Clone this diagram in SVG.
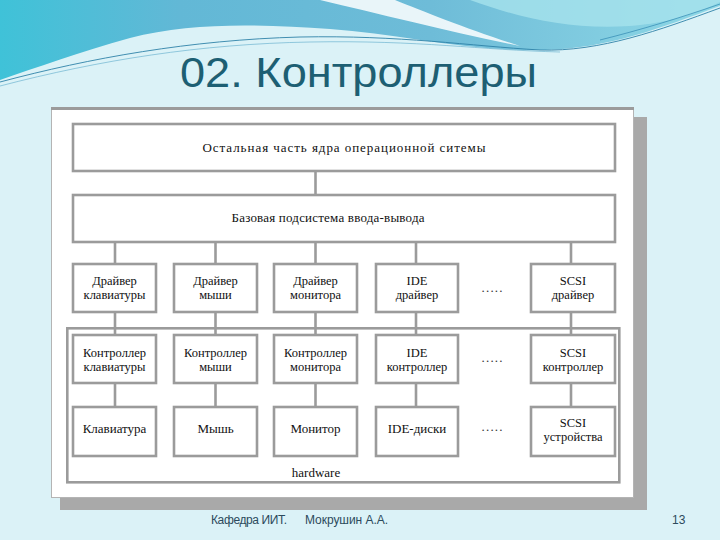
<svg xmlns="http://www.w3.org/2000/svg" width="720" height="540" viewBox="0 0 720 540">
<defs>
<linearGradient id="sky" x1="0" y1="0" x2="1" y2="0">
<stop offset="0" stop-color="#3fc2d8"/>
<stop offset="0.25" stop-color="#62b8d6"/>
<stop offset="0.6" stop-color="#6ebcd8"/>
<stop offset="1" stop-color="#8fd8e6"/>
</linearGradient>
<style>
.box{fill:#ffffff;stroke:#9b9b9b;stroke-width:2.6}
.con line{stroke:#9b9b9b;stroke-width:2.6}
.t{font-family:'Liberation Serif','DejaVu Serif','Noto Serif',serif;font-size:12.5px;fill:#111;text-anchor:middle}
.big{font-size:13px}
.dots{font-family:'Liberation Serif','DejaVu Serif',serif;font-size:13px;fill:#333;text-anchor:middle}
.foot{font-family:'Liberation Sans',Arial,sans-serif;font-size:12px;fill:#2c4a5c}
</style>
</defs>
<rect x="0" y="0" width="720" height="540" fill="#dbf2f7"/>
<!-- top decoration -->
<path d="M0,0 H720 V6 C660,28 610,48 545,50 C470,52 400,34 330,29 C260,24 190,22 130,38 C80,52 35,68 0,80 Z" fill="url(#sky)"/>
<path d="M470,0 C520,18 570,30 630,26 C675,22 700,12 720,2 V0 Z" fill="#a6e2ec" opacity="0.8"/>
<path d="M320,0 C380,14 450,32 520,46 C470,30 425,12 395,0 Z" fill="#ffffff" opacity="0.85"/>
<path d="M0,82 C90,58 190,40 300,37 C400,35 470,46 540,50 C600,52 660,30 720,8" fill="none" stroke="#2f82a8" stroke-width="0.9"/>
<path d="M0,86 C100,60 200,44 310,42 C420,40 480,50 560,52" fill="none" stroke="#5aa9c9" stroke-width="0.6"/>
<path d="M600,40 C640,30 680,18 720,4" fill="none" stroke="#3a90b8" stroke-width="0.8"/>
<!-- title -->
<text x="180" y="87" font-family="'Liberation Sans Narrow','Liberation Sans',Arial,sans-serif" font-size="43" fill="#1d5f73" textLength="357" lengthAdjust="spacingAndGlyphs">02. Контроллеры</text>
<!-- frame with shadow -->
<rect x="634" y="117" width="13" height="393" fill="#a9a9a9"/>
<rect x="60" y="498" width="587" height="12" fill="#a9a9a9"/>
<rect x="51.5" y="107.5" width="582" height="390" fill="#ffffff" stroke="#b4b4b4" stroke-width="1"/>
<line x1="51" y1="108.5" x2="634" y2="108.5" stroke="#9b9b9b" stroke-width="3"/>
<!-- hardware container -->
<g id="hardware">
<rect class="box" x="67.3" y="328.3" width="552" height="154"/>
<text class="t big" x="316" y="477">hardware</text>
</g>
<!-- connectors -->
<g id="connectors" class="con">
<line x1="315.5" y1="172" x2="315.5" y2="194"/>
<line x1="115" y1="243" x2="115" y2="263"/>
<line x1="215.5" y1="243" x2="215.5" y2="263"/>
<line x1="315.5" y1="243" x2="315.5" y2="263"/>
<line x1="416" y1="243" x2="416" y2="263"/>
<line x1="571" y1="243" x2="571" y2="263"/>
<line x1="115" y1="313" x2="115" y2="334"/>
<line x1="215.5" y1="313" x2="215.5" y2="334"/>
<line x1="315.5" y1="313" x2="315.5" y2="334"/>
<line x1="416" y1="313" x2="416" y2="334"/>
<line x1="571" y1="313" x2="571" y2="334"/>
<line x1="115" y1="384" x2="115" y2="406"/>
<line x1="215.5" y1="384" x2="215.5" y2="406"/>
<line x1="315.5" y1="384" x2="315.5" y2="406"/>
<line x1="416" y1="384" x2="416" y2="406"/>
<line x1="571" y1="384" x2="571" y2="406"/>
</g>
<!-- top layers -->
<g id="kernel">
<rect class="box" x="73" y="124" width="542" height="47"/>
<text class="t big" x="344" y="152" textLength="283">Остальная часть ядра операционной ситемы</text>
</g>
<g id="io">
<rect class="box" x="73" y="195" width="542" height="47"/>
<text class="t big" x="328" y="222" textLength="193">Базовая подсистема ввода-вывода</text>
</g>
<!-- drivers -->
<g id="drv-kbd">
<rect class="box" x="73" y="264" width="83" height="48"/>
<text class="t" x="114.5" y="285">Драйвер</text>
<text class="t" x="114.5" y="299">клавиатуры</text>
</g>
<g id="drv-mouse">
<rect class="box" x="174" y="264" width="83" height="48"/>
<text class="t" x="215.5" y="285">Драйвер</text>
<text class="t" x="215.5" y="299">мыши</text>
</g>
<g id="drv-mon">
<rect class="box" x="274" y="264" width="83" height="48"/>
<text class="t" x="315.5" y="285">Драйвер</text>
<text class="t" x="315.5" y="299">монитора</text>
</g>
<g id="drv-ide">
<rect class="box" x="376" y="264" width="82" height="48"/>
<text class="t" x="417" y="285">IDE</text>
<text class="t" x="417" y="299">драйвер</text>
</g>
<text class="dots" x="492" y="292" textLength="21">.....</text>
<g id="drv-scsi">
<rect class="box" x="531" y="264" width="84" height="48"/>
<text class="t" x="573" y="285">SCSI</text>
<text class="t" x="573" y="299">драйвер</text>
</g>
<!-- controllers -->
<g id="ctl-kbd">
<rect class="box" x="73" y="335" width="83" height="48"/>
<text class="t" x="114.5" y="357">Контроллер</text>
<text class="t" x="114.5" y="371">клавиатуры</text>
</g>
<g id="ctl-mouse">
<rect class="box" x="174" y="335" width="83" height="48"/>
<text class="t" x="215.5" y="357">Контроллер</text>
<text class="t" x="215.5" y="371">мыши</text>
</g>
<g id="ctl-mon">
<rect class="box" x="274" y="335" width="83" height="48"/>
<text class="t" x="315.5" y="357">Контроллер</text>
<text class="t" x="315.5" y="371">монитора</text>
</g>
<g id="ctl-ide">
<rect class="box" x="376" y="335" width="82" height="48"/>
<text class="t" x="417" y="357">IDE</text>
<text class="t" x="417" y="371">контроллер</text>
</g>
<text class="dots" x="492" y="362" textLength="21">.....</text>
<g id="ctl-scsi">
<rect class="box" x="531" y="335" width="84" height="48"/>
<text class="t" x="573" y="357">SCSI</text>
<text class="t" x="573" y="371">контроллер</text>
</g>
<!-- devices -->
<g id="dev-kbd">
<rect class="box" x="73" y="407" width="83" height="49"/>
<text class="t big" x="114.5" y="433">Клавиатура</text>
</g>
<g id="dev-mouse">
<rect class="box" x="174" y="407" width="83" height="49"/>
<text class="t big" x="215.5" y="433">Мышь</text>
</g>
<g id="dev-mon">
<rect class="box" x="274" y="407" width="83" height="49"/>
<text class="t big" x="315.5" y="433">Монитор</text>
</g>
<g id="dev-ide">
<rect class="box" x="376" y="407" width="82" height="49"/>
<text class="t big" x="417" y="433">IDE-диски</text>
</g>
<text class="dots" x="492" y="431" textLength="21">.....</text>
<g id="dev-scsi">
<rect class="box" x="531" y="407" width="84" height="49"/>
<text class="t" x="573" y="427">SCSI</text>
<text class="t" x="573" y="441">устройства</text>
</g>
<!-- footer -->
<text class="foot" x="211" y="524" textLength="76">Кафедра ИИТ.</text>
<text class="foot" x="305" y="524" textLength="83">Мокрушин А.А.</text>
<text class="foot" x="672" y="524" font-size="11">13</text>
</svg>
